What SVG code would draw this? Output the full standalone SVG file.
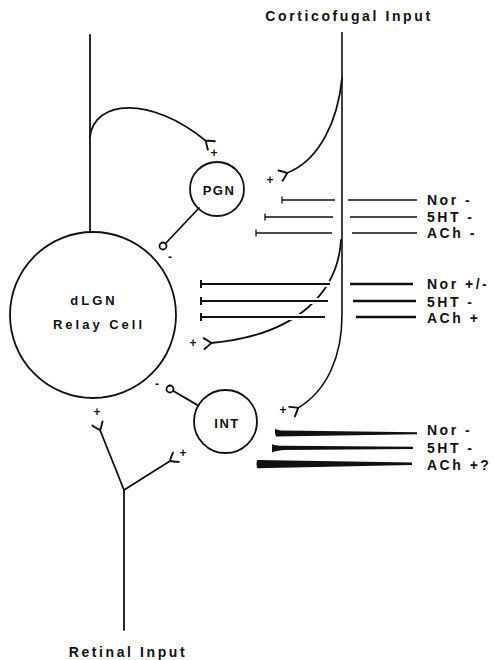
<svg xmlns="http://www.w3.org/2000/svg" width="493" height="660" viewBox="0 0 493 660">
<style>
 .ln{fill:none;stroke:#111;stroke-width:1.8;stroke-linecap:round}
 .thin{fill:none;stroke:#111;stroke-width:1.3}
 .mid{fill:none;stroke:#111;stroke-width:2}
 .halo{fill:none;stroke:#fff;stroke-width:6}
 .cell{fill:none;stroke:#111;stroke-width:1.8}
 .wedge{fill:#111;stroke:none}
 text{font-family:"Liberation Sans",Arial,sans-serif;font-weight:bold;fill:#111}
 .lab{font-size:14px;letter-spacing:2.5px}
 .title{font-size:14px;letter-spacing:2.6px;text-anchor:middle}
 .cl{font-size:13px;letter-spacing:3px;text-anchor:middle}
 .sg{font-size:12px;text-anchor:middle}
</style>
<defs>
 <marker id="syn" markerUnits="userSpaceOnUse" markerWidth="20" markerHeight="20" viewBox="-10 -10 20 20" refX="0" refY="0" orient="auto" overflow="visible">
  <path d="M7,-5.5 Q1.5,-1.8 0,0 Q1.5,1.8 7,5.5" fill="none" stroke="#111" stroke-width="1.9" stroke-linecap="round"/>
 </marker>
</defs>
<rect width="493" height="660" fill="#fff"/>

<g id="connectors">
 <!-- relay cell axon (top) and collateral to PGN -->
 <path class="ln" d="M90,35 V232"/>
 <path class="ln" d="M90,137 C94,100 150,95 206,141" marker-end="url(#syn)"/>
 <!-- PGN inhibitory to relay -->
 <path class="ln" d="M199,208 L165.5,243.5"/>
 <circle cx="163" cy="246" r="3.5" fill="#fff" stroke="#111" stroke-width="1.8"/>
 <!-- INT inhibitory to relay -->
 <path class="ln" d="M198.3,405.6 L173,390.8"/>
 <circle cx="170" cy="389" r="3.5" fill="#fff" stroke="#111" stroke-width="1.8"/>
 <!-- corticofugal -->
 <path class="thin" d="M342,32 L342,315 C342,355 328,390 298,408" marker-end="url(#syn)" style="stroke-width:1.6"/>
 <path class="ln" d="M342,78 C338,120 320,160 287,173" marker-end="url(#syn)"/>
 <path class="ln" d="M341,240 C338,290 300,335 211,343" marker-end="url(#syn)"/>
 <!-- retinal -->
 <path class="ln" d="M124,630 V490"/>
 <path class="ln" d="M124,490 L100,430" marker-end="url(#syn)"/>
 <path class="ln" d="M124,490 L170,461" marker-end="url(#syn)"/>

 <!-- modulatory group 1 -->
 <path class="thin" d="M282,200 H335 M282,196.5 V203.5"/>
 <path class="thin" d="M265,217 H333 M265,213.5 V220.5"/>
 <path class="thin" d="M256,233 H332 M256,229.5 V236.5"/>
 <path class="thin" d="M348,200 H417 M350,217 H417 M352,233 H417" style="stroke-width:1.5"/>

 <!-- modulatory group 2 -->
 <path class="halo" d="M205,284 H330 M205,301 H328 M205,317 H325"/>
 <path class="mid" d="M201,284 H330 M201,280 V288"/>
 <path class="mid" d="M201,301 H328 M201,297 V305"/>
 <path class="mid" d="M201,317 H325 M201,313 V321"/>
 <path class="mid" d="M350,284 H413 M353,301 H416 M356,317 H416" style="stroke-width:2.3"/>

 <!-- modulatory group 3 (wedges) -->
 <path class="wedge" d="M275,428.5 Q277,430.5 284,430.5 L417,432.3 L417,434.2 L276,436.5 Q274.5,433 275,428.5 Z"/>
 <path class="wedge" d="M272,444 Q274,445.8 284,445.8 L413,446.7 L413,449 L285,450 Q276,450.5 272,452.5 Z"/>
 <path class="wedge" d="M257,460 L412,462.6 L412,465 L257,468.3 Q256,464 257,460 Z"/>
</g>

<g id="relay">
 <circle class="cell" cx="93" cy="315" r="83"/>
 <text class="cl" x="94" y="305">dLGN</text>
 <text class="cl" x="99" y="329">Relay Cell</text>
</g>
<g id="pgn">
 <circle class="cell" cx="217" cy="189" r="27"/>
 <text class="cl" x="219" y="195" style="letter-spacing:1.5px">PGN</text>
</g>
<g id="int">
 <circle class="cell" cx="225.5" cy="421.5" r="31.5"/>
 <text class="cl" x="227" y="428" style="letter-spacing:1.5px">INT</text>
</g>

<g id="signs">
 <text class="sg" x="214" y="157">+</text>
 <text class="sg" x="270" y="184">+</text>
 <text class="sg" x="170" y="261">-</text>
 <text class="sg" x="193" y="347">+</text>
 <text class="sg" x="157" y="388">-</text>
 <text class="sg" x="283" y="414">+</text>
 <text class="sg" x="97" y="416">+</text>
 <text class="sg" x="183" y="457">+</text>
</g>

<g id="labels">
 <text class="title" x="349" y="21">Corticofugal Input</text>
 <text class="title" x="128" y="657">Retinal Input</text>
 <text class="lab" x="427" y="205">Nor -</text>
 <text class="lab" x="427" y="222">5HT -</text>
 <text class="lab" x="427" y="238">ACh -</text>
 <text class="lab" x="427" y="289">Nor +/-</text>
 <text class="lab" x="427" y="307">5HT -</text>
 <text class="lab" x="427" y="323">ACh +</text>
 <text class="lab" x="427" y="435">Nor -</text>
 <text class="lab" x="427" y="453">5HT -</text>
 <text class="lab" x="427" y="470">ACh +?</text>
</g>
</svg>
